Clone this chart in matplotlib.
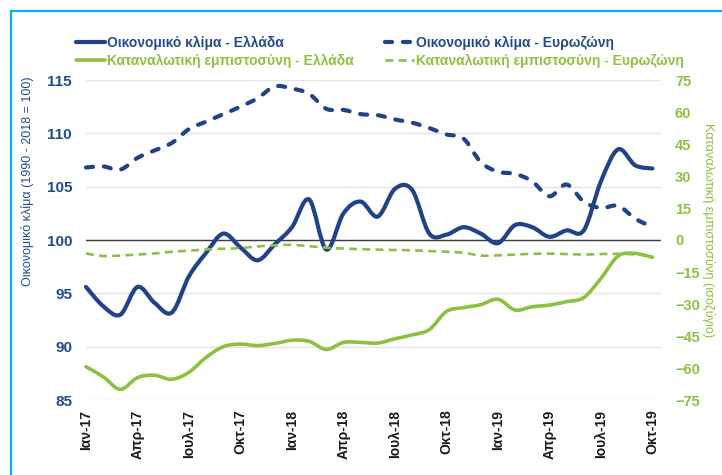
import matplotlib
matplotlib.use('Agg')
import matplotlib.pyplot as plt
from matplotlib.path import Path
from matplotlib.patches import PathPatch, Rectangle
from matplotlib.lines import Line2D
import numpy as np

plt.rcParams['font.family'] = ['Liberation Sans', 'DejaVu Sans']

# ---------------- data (monthly, Jan-17 .. Oct-19) ----------------
tick_labels = ['Ιαν-17', 'Απρ-17', 'Ιουλ-17', 'Οκτ-17', 'Ιαν-18', 'Απρ-18',
               'Ιουλ-18', 'Οκτ-18', 'Ιαν-19', 'Απρ-19', 'Ιουλ-19', 'Οκτ-19']

esi_greece = [95.6, 93.8, 93.0, 95.6, 94.1, 93.2, 96.6, 98.8, 100.6, 99.3,
              98.1, 99.6, 101.2, 103.8, 99.1, 102.5, 103.6, 102.2, 104.8, 104.7,
              100.6, 100.5, 101.2, 100.6, 99.7, 101.4, 101.2, 100.3, 100.9, 100.9,
              105.5, 108.5, 107.0, 106.7]

esi_eurozone = [106.8, 106.9, 106.6, 107.7, 108.4, 109.1, 110.4, 111.1, 111.8, 112.5,
                113.3, 114.4, 114.2, 113.7, 112.3, 112.2, 111.8, 111.7, 111.3, 111.0,
                110.5, 109.9, 109.5, 107.3, 106.4, 106.2, 105.5, 104.1, 105.2, 103.6,
                103.0, 103.2, 102.0, 101.2]

cci_greece = [-59.4, -64.1, -70.0, -64.5, -63.4, -65.3, -62.0, -55.0, -50.0, -48.8,
              -49.5, -48.5, -47.0, -47.5, -51.3, -48.0, -48.0, -48.3, -46.3, -44.5,
              -42.0, -33.5, -31.7, -30.3, -27.8, -32.8, -31.3, -30.5, -28.9, -27.0,
              -18.0, -7.5, -6.3, -8.1]

cci_eurozone = [-6.3, -7.5, -7.3, -6.8, -6.3, -5.5, -5.0, -4.4, -4.1, -3.8,
                -3.0, -2.5, -2.3, -2.9, -3.6, -4.0, -4.3, -4.5, -4.7, -4.8,
                -5.2, -5.5, -6.0, -7.3, -7.2, -6.8, -6.5, -6.4, -6.6, -6.8,
                -6.6, -6.5, -6.8, -7.6]

series_labels = ['Οικονομικό κλίμα - Ελλάδα', 'Οικονομικό κλίμα - Ευρωζώνη',
                 'Καταναλωτική εμπιστοσύνη - Ελλάδα', 'Καταναλωτική εμπιστοσύνη - Ευρωζώνη']

BLUE = '#1F4288'
GREEN = '#8CC140'
BLUE_TXT = '#234A8F'
GREEN_TXT = '#8DC13F'


def smooth_path(yvals):
    """Excel-like smoothed line as a cubic Bezier path through the data points."""
    y = np.asarray(yvals, float)
    x = np.arange(len(y), dtype=float)
    n = len(y)
    verts = [(x[0], y[0])]
    codes = [Path.MOVETO]
    for i in range(n - 1):
        p0 = i - 1 if i > 0 else i
        p3 = i + 2 if i + 2 < n else i + 1
        c1 = (x[i] + (x[i + 1] - x[p0]) / 6.0, y[i] + (y[i + 1] - y[p0]) / 6.0)
        c2 = (x[i + 1] - (x[p3] - x[i]) / 6.0, y[i + 1] - (y[p3] - y[i]) / 6.0)
        verts += [c1, c2, (x[i + 1], y[i + 1])]
        codes += [Path.CURVE4] * 3
    return Path(verts, codes)


fig = plt.figure(figsize=(7.22, 4.75), dpi=100)
W, H = 722, 475

ax = fig.add_axes([86 / W, 1 - 400 / H, (661 - 86) / W, (400 - 80) / H])
ax2 = ax.twinx()

ax.set_xlim(0, 33.5)
ax.set_ylim(85, 115)
ax2.set_ylim(-75, 75)
ax.set_yticks(np.arange(85, 116, 5))
ax2.set_yticks(np.arange(-75, 76, 15))
ax.set_xticks(np.arange(0, len(esi_greece), 3))
ax.set_xticklabels(tick_labels, rotation=90, fontsize=10, fontweight='bold', color='#1a1a1a')

for a in (ax, ax2):
    for s in a.spines.values():
        s.set_visible(False)

ax.yaxis.grid(True, color='#E4E4E4', lw=1.0)
ax.set_axisbelow(True)
ax.axhline(100, color='#3c3c3c', lw=1.0, zorder=1.5)

ax.tick_params(axis='y', length=0, pad=10, labelsize=11, labelcolor=BLUE_TXT)
ax2.tick_params(axis='y', length=0, pad=10, labelsize=10.5, labelcolor=GREEN_TXT)
ax.tick_params(axis='x', length=0, pad=7)
for l in ax.get_yticklabels() + ax2.get_yticklabels():
    l.set_fontweight('bold')

# lines
ax.add_patch(PathPatch(smooth_path(esi_greece), fill=False, ec=BLUE, lw=3.0,
                       capstyle='round', joinstyle='round', clip_on=False, zorder=3))
ax.add_patch(PathPatch(smooth_path(esi_eurozone), fill=False, ec=BLUE, lw=3.0,
                       linestyle=(0, (1.7, 2.6)), capstyle='round', joinstyle='round',
                       clip_on=False, zorder=3))
ax2.add_patch(PathPatch(smooth_path(cci_greece), fill=False, ec=GREEN, lw=2.6,
                        capstyle='round', joinstyle='round', clip_on=False, zorder=3))
ax2.add_patch(PathPatch(smooth_path(cci_eurozone), fill=False, ec=GREEN, lw=1.9,
                        linestyle=(0, (3.0, 2.0)), capstyle='butt', joinstyle='round',
                        clip_on=False, zorder=3))

# axis titles
fig.text(28 / W, 1 - 181 / H, 'Οικονομικό κλίμα (1990 - 2018 = 100)', rotation=90,
         ha='center', va='center', fontsize=9, color=BLUE_TXT)
fig.text(708 / W, 1 - 230 / H, 'Καταναλωτική εμπιστοσύνη (ισοζύγιο)', rotation=270,
         ha='center', va='center', fontsize=9.2, color=GREEN_TXT)

# legend
h_bs = Line2D([], [], color=BLUE, lw=3.0, solid_capstyle='round')
h_bd = Line2D([], [], color=BLUE, lw=3.0, linestyle=(0, (1.7, 2.6)), dash_capstyle='round')
h_gs = Line2D([], [], color=GREEN, lw=2.6, solid_capstyle='round')
h_gd = Line2D([], [], color=GREEN, lw=1.9, linestyle=(0, (3.0, 2.0)))
leg = fig.legend([h_bs, h_gs, h_bd, h_gd],
                 [series_labels[0], series_labels[2], series_labels[1], series_labels[3]],
                 loc='upper left', bbox_to_anchor=(76 / W, 1 - 36 / H), ncol=2,
                 frameon=False, prop={'size': 10, 'weight': 'bold'},
                 handlelength=2.1, handletextpad=0.15,
                 columnspacing=2.2, labelspacing=0.3, borderpad=0, borderaxespad=0)
for t, c in zip(leg.get_texts(), [BLUE_TXT, GREEN_TXT, BLUE_TXT, GREEN_TXT]):
    t.set_color(c)

# frame border
fig.add_artist(Rectangle((11 / W, -0.1), 1.2, (1 - 11 / H) + 0.1, transform=fig.transFigure,
                         fill=False, ec='#00B0F0', lw=1.6))

fig.savefig('out.png', dpi=100)
